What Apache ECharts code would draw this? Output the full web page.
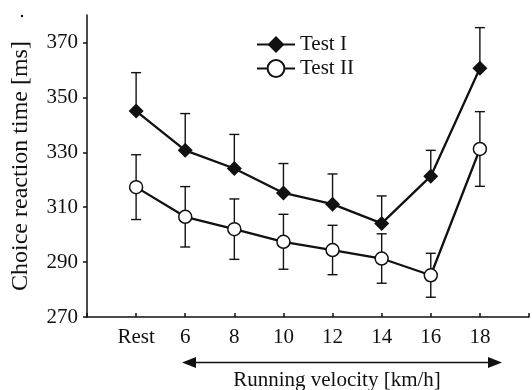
<!DOCTYPE html>
<html>
<head>
<meta charset="utf-8">
<script src="https://cdn.jsdelivr.net/npm/echarts@6/dist/echarts.min.js"></script>
<style>
  html, body { margin: 0; padding: 0; background: #fff; }
  #main { width: 532px; height: 390px; }
</style>
</head>
<body>
<div id="main"></div>
<script>
// categorias del eje X (con huecos vacios en los extremos)
const categories = ['Rest', '6', '8', '10', '12', '14', '16', '18'];
const yTicks = [270, 290, 310, 330, 350, 370];

// Test I: media y error (solo hacia arriba)
const testI = [345, 330.7, 324.1, 315.2, 311.1, 304.1, 321.3, 360.6];
const testIErr = [14, 13.4, 12.4, 10.7, 11, 10, 9.4, 14.8];

// Test II: media y error (arriba y abajo)
const testII = [317.3, 306.5, 302, 297.4, 294.4, 291.3, 285.2, 331.2];
const testIIErr = [11.8, 11, 11, 10, 9, 9, 8, 13.6];

const font = '"Liberation Serif", serif';
const ink = '#111';

const xCats = [''].concat(categories, ['']);
const pad = arr => [null].concat(arr, [null]);

function errorBars(vals, errs, both) {
  return {
    type: 'custom',
    silent: true,
    z: 1,
    renderItem: (params, api) => {
      const x = api.value(0);
      const y = api.value(1);
      const e = api.value(2);
      const top = api.coord([x, y + e]);
      const bot = api.coord([x, both ? y - e : y]);
      const hw = 5; // medio ancho del tope
      const st = { stroke: ink, lineWidth: 1.4 };
      const children = [
        { type: 'line', shape: { x1: top[0], y1: top[1], x2: bot[0], y2: bot[1] }, style: st },
        { type: 'line', shape: { x1: top[0] - hw, y1: top[1], x2: top[0] + hw, y2: top[1] }, style: st }
      ];
      if (both) {
        children.push({ type: 'line', shape: { x1: bot[0] - hw, y1: bot[1], x2: bot[0] + hw, y2: bot[1] }, style: st });
      }
      return { type: 'group', children: children };
    },
    encode: { x: 0, y: 1 },
    data: vals.map((v, i) => [i + 1, v, errs[i]])
  };
}

const chart = echarts.init(document.getElementById('main'), null, { renderer: 'canvas' });

const option = {
  animation: false,
  backgroundColor: '#fff',
  textStyle: { fontFamily: font, color: ink },
  grid: { left: 87, right: 0, top: 15, bottom: 73 },
  legend: {
    data: ['Test I', 'Test II'],
    orient: 'vertical',
    left: 251,
    top: 29,
    itemWidth: 38,
    itemHeight: 21,
    itemGap: 3,
    textStyle: { fontFamily: font, fontSize: 21, color: ink }
  },
  xAxis: {
    type: 'category',
    data: xCats,
    boundaryGap: false,
    axisLine: { lineStyle: { color: ink, width: 1.5 } },
    axisTick: { inside: true, length: 4, lineStyle: { color: ink, width: 1.5 } },
    axisLabel: { fontFamily: font, fontSize: 21, color: ink, margin: 10 },
    splitLine: { show: false }
  },
  yAxis: {
    type: 'value',
    min: 270,
    max: 380,
    name: 'Choice reaction time [ms]',
    nameLocation: 'middle',
    nameGap: 54,
    nameTextStyle: { fontFamily: font, fontSize: 24, color: ink },
    axisLine: { show: true, lineStyle: { color: ink, width: 1.5 } },
    axisTick: { show: true, length: 4, customValues: yTicks, lineStyle: { color: ink, width: 1.5 } },
    axisLabel: { fontFamily: font, fontSize: 21, color: ink, margin: 9, customValues: yTicks },
    splitLine: { show: false }
  },
  graphic: [
    { type: 'circle', shape: { cx: 22, cy: 16, r: 1.2 }, style: { fill: ink } },
    { type: 'line', shape: { x1: 192, y1: 362.5, x2: 492, y2: 362.5 }, style: { stroke: ink, lineWidth: 1.5 } },
    { type: 'polygon', shape: { points: [[182, 362.5], [196, 357], [196, 368]] }, style: { fill: ink } },
    { type: 'polygon', shape: { points: [[502, 362.5], [488, 357], [488, 368]] }, style: { fill: ink } },
    {
      type: 'text', x: 337, y: 380,
      style: {
        text: 'Running velocity [km/h]', font: '21px "Liberation Serif", serif', fill: ink,
        align: 'center', verticalAlign: 'middle'
      }
    }
  ],
  series: [
    errorBars(testI, testIErr, false),
    errorBars(testII, testIIErr, true),
    {
      name: 'Test I',
      type: 'line',
      z: 3,
      data: pad(testI),
      symbol: 'diamond',
      symbolSize: 15,
      itemStyle: { color: ink },
      lineStyle: { color: ink, width: 2.3 }
    },
    {
      name: 'Test II',
      type: 'line',
      z: 3,
      data: pad(testII),
      symbol: 'circle',
      symbolSize: 13,
      itemStyle: { color: '#fff', borderColor: ink, borderWidth: 1.5 },
      lineStyle: { color: ink, width: 2.3 }
    }
  ]
};

chart.setOption(option);
</script>
</body>
</html>
